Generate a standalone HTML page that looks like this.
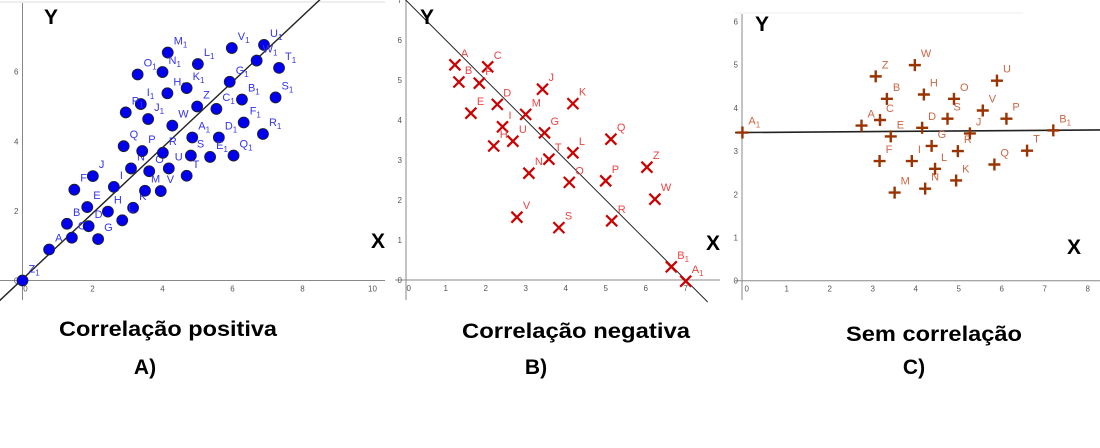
<!DOCTYPE html>
<html><head><meta charset="utf-8"><style>
html,body{margin:0;padding:0;background:#fff;}
svg{display:block;font-family:"Liberation Sans",Arial,sans-serif;}
</style></head><body>
<svg id="chart" width="1100" height="448" viewBox="0 0 1100 448">
<line x1="0" y1="2" x2="385" y2="2" stroke="#ddd"/>
<line x1="735" y1="13" x2="1023" y2="13" stroke="#eee"/>
<g id="pa"></g>
<g id="pb"></g>
<g id="pc"></g>
<text x="168" y="336" font-size="21" font-weight="bold" text-anchor="middle" textLength="218" lengthAdjust="spacingAndGlyphs">Correlação positiva</text>
<text x="145" y="374" font-size="21" font-weight="bold" text-anchor="middle">A)</text>
<text x="576" y="338" font-size="21" font-weight="bold" text-anchor="middle" textLength="228" lengthAdjust="spacingAndGlyphs">Correlação negativa</text>
<text x="536" y="374" font-size="21" font-weight="bold" text-anchor="middle">B)</text>
<text x="934" y="341" font-size="21" font-weight="bold" text-anchor="middle" textLength="176" lengthAdjust="spacingAndGlyphs">Sem correlação</text>
<text x="914" y="374" font-size="21" font-weight="bold" text-anchor="middle">C)</text>
</svg>
<script>
// Panel A data
const aNames=["A","B","C","D","E","F","G","H","I","J","K","L","M","N","O","P","Q","R","S","T","U","V","W","Z","A1","B1","C1","D1","E1","F1","G1","H1","I1","J1","K1","L1","M1","N1","O1","P1","Q1","R1","S1","T1","U1","V1","W1","Z1"];
const aX=[0.76,1.27,1.41,1.89,1.85,1.48,2.16,2.44,2.61,2.01,3.16,2.85,3.5,3.1,3.62,3.42,2.89,4.01,4.81,4.69,4.18,3.95,4.28,4.99,4.85,6.27,5.54,5.61,5.36,6.32,5.92,4.14,3.38,3.59,4.69,5.01,4.15,4.0,3.29,2.95,6.03,6.87,7.23,7.33,6.9,5.98,6.69,0];
const aY=[0.89,1.63,1.23,1.56,2.11,2.61,1.19,1.98,2.69,3.0,2.09,1.73,2.58,3.22,3.14,3.72,3.86,3.67,3.59,3.01,3.22,2.57,4.45,5.0,4.11,5.2,4.93,4.11,3.55,4.54,5.71,5.38,5.07,4.64,5.53,6.22,6.55,5.99,5.92,4.83,3.59,4.21,5.26,6.11,6.77,6.68,6.32,0];
const aXTicks=[0,2,4,6,8,10];
const aYTicks=[0,2,4,6];
const aLine=[0.04,0.945]; // intercept, slope
// Panel B data
const bNames=["A","B","C","F","D","E","I","H","U","M","J","K","G","T","L","N","O","Q","P","Z","W","R","S","V","B1","A1"];
const bX=[1.23,1.33,2.05,1.84,2.29,1.63,2.42,2.2,2.68,3.0,3.42,4.18,3.47,3.58,4.18,3.08,4.09,5.13,5.0,6.03,6.23,5.15,3.83,2.78,6.64,7.0];
const bY=[5.38,4.95,5.33,4.92,4.39,4.17,3.83,3.35,3.47,4.14,4.77,4.41,3.68,3.02,3.18,2.67,2.44,3.52,2.48,2.82,2.02,1.48,1.31,1.57,0.33,-0.03];
const bXTicks=[0,1,2,3,4,5,6,7];
const bYTicks=[0,1,2,3,4,5,6,7];
const bLine=[7.0,-1.0];
// Panel C data
const cNames=["A1","A","C","B","Z","E","F","M","I","D","W","H","G","N","L","S","O","R","K","J","V","U","P","Q","T","B1"];
const cX=[-0.03,2.74,3.17,3.33,3.07,3.42,3.16,3.51,3.91,4.15,3.98,4.19,4.37,4.22,4.45,4.74,4.89,4.98,4.94,5.26,5.56,5.89,6.11,5.83,6.59,7.2];
const cY=[3.43,3.59,3.72,4.21,4.73,3.34,2.77,2.04,2.77,3.54,4.99,4.31,3.12,2.13,2.59,3.75,4.21,3.0,2.32,3.41,3.94,4.63,3.75,2.69,3.01,3.48];
const cXTicks=[0,1,2,3,4,5,6,7,8];
const cYTicks=[0,1,2,3,4,5,6];
const cLine=[3.43,0.0072];

const NS="http://www.w3.org/2000/svg";
function mk(tag,attrs,parent){const e=document.createElementNS(NS,tag);for(const k in attrs)e.setAttribute(k,attrs[k]);parent.appendChild(e);return e;}

function panel(g,cfg,names,xs,ys,xt,yt,line){
  const sx=v=>cfg.x0+v*cfg.ux, sy=v=>cfg.y0-v*cfg.uy;
  let e=mk('line',{x1:cfg.xl,y1:cfg.y0,x2:cfg.xr,y2:cfg.y0,stroke:'#888','stroke-width':1},g);
  
  
  e=mk('line',{x1:cfg.ax,y1:cfg.yt,x2:cfg.ax,y2:cfg.yb,stroke:'#888','stroke-width':1},g);
  
  
  xt.forEach(v=>{
    const t=mk('text',{x:sx(v)+(v===0?3:0),y:cfg.y0+11,'font-size':8,fill:'#555','text-anchor':'middle'},g);t.textContent=v;
    
    
  });
  yt.forEach(v=>{
    const t=mk('text',{x:cfg.ax-4,y:sy(v)+3,'font-size':8,fill:'#555','text-anchor':'end'},g);t.textContent=v;
    
    
  });
  const l=mk('line',{x1:sx(cfg.lx[0]),y1:sy(line[0]+line[1]*cfg.lx[0]),x2:sx(cfg.lx[1]),y2:sy(line[0]+line[1]*cfg.lx[1]),stroke:'#222','stroke-width':cfg.lw},g);
  
  
  names.forEach((n,i)=>{
    const px=sx(xs[i]),py=sy(ys[i]);
    let m;
    if(cfg.mark==='dot'){
      m=mk('circle',{cx:px,cy:py,r:5.5,fill:'#0000ee',stroke:'#222','stroke-width':0.8},g);
    }else if(cfg.mark==='x'){
      m=mk('path',{d:`M${px-5.5} ${py-5.5}L${px+5.5} ${py+5.5}M${px-5.5} ${py+5.5}L${px+5.5} ${py-5.5}`,stroke:'#cc0000','stroke-width':2.2,fill:'none'},g);
    }else{
      m=mk('path',{d:`M${px-6} ${py}L${px+6} ${py}M${px} ${py-6}L${px} ${py+6}`,stroke:'#993300','stroke-width':2.4,fill:'none'},g);
    }
    
    
    const t=mk('text',{x:px+6,y:py-8,'font-size':11,fill:cfg.lc},g);
    
    
    if(n.length>1){
      t.appendChild(document.createTextNode(n[0]));
      const s=mk('tspan',{dy:3,'font-size':8},t);s.textContent=n.slice(1);
    }else t.textContent=n;
  });
  let Y=mk('text',{x:cfg.Y[0],y:cfg.Y[1],'font-size':21,'font-weight':'bold',fill:'#000'},g);Y.textContent='Y';
  
  
  let X=mk('text',{x:cfg.X[0],y:cfg.X[1],'font-size':21,'font-weight':'bold',fill:'#000'},g);X.textContent='X';
  
  
}
panel(document.getElementById('pa'),{x0:22.5,y0:280.5,ux:35,uy:34.8,xl:0,xr:385,ax:22.5,yt:3,yb:300,lx:[-0.7,8.5],lw:1.4,mark:'dot',lc:'#3333ee',Y:[44,24],X:[371,248]},aNames,aX,aY,aXTicks,aYTicks,aLine);
panel(document.getElementById('pb'),{x0:405.7,y0:280,ux:40,uy:40,xl:395,xr:720,ax:406,yt:0,yb:300,lx:[-0.1,7.55],lw:1,mark:'x',lc:'#ee4444',Y:[420,24],X:[706,250]},bNames,bX,bY,bXTicks,bYTicks,bLine);
panel(document.getElementById('pc'),{x0:743.7,y0:280.7,ux:43,uy:43.2,xl:735,xr:1100,ax:742,yt:14,yb:300,lx:[-0.2,8.35],lw:1.6,mark:'plus',lc:'#cc6644',Y:[755,31],X:[1067,254]},cNames,cX,cY,cXTicks,cYTicks,cLine);
</script>
</body></html>
